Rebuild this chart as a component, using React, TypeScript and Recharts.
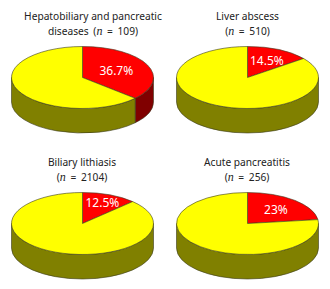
import React from 'react';
import { PieChart, Pie, Cell } from 'recharts';

const titles = [
    ['Hepatobiliary and pancreatic', 'diseases'],
    ['Liver abscess'],
    ['Biliary lithiasis'],
    ['Acute pancreatitis'],
];
const sampleSizes = [109, 510, 2104, 256];
const redShares = [36.7, 14.5, 12.5, 23];
const redLabels = ['36.7%', '14.5%', '12.5%', '23%'];

// layout of each panel in the page
const panelX = [0, 165, 0, 165];
const panelY = [0, 0, 146, 146];
const titleCenters = [93, 82.5, 82, 82];
const labelRadii = [37, 44, 52, 43];

const RX = 71;
const RY = 31;
const DEPTH = 24.5;
const TOP_COLORS = ['#ff0000', '#ffff00'];
const WALL_COLORS = ['#800000', '#808000'];
const EDGE = '#3a3a20';
const FONT = "'Noto Sans'";

const rad = (a: number) => (a * Math.PI) / 180;

const Slice3D = (props: any) => {
    const { cx, cy, startAngle, endAngle, index } = props;
    const px = (a: number) => cx + RX * Math.cos(rad(a));
    const py = (a: number) => cy - RY * Math.sin(rad(a));
    const large = Math.abs(startAngle - endAngle) > 180 ? 1 : 0;
    const top = `M${cx},${cy} L${px(startAngle)},${py(startAngle)} A${RX},${RY} 0 ${large} 1 ${px(endAngle)},${py(endAngle)} Z`;

    // side wall only shows on the front half of the ellipse
    const a0 = Math.min(startAngle, 0);
    const a1 = Math.max(endAngle, -180);
    const wall =
        a0 > a1
            ? `M${px(a0)},${py(a0)} A${RX},${RY} 0 0 1 ${px(a1)},${py(a1)} L${px(a1)},${py(a1) + DEPTH} A${RX},${RY} 0 0 0 ${px(a0)},${py(a0) + DEPTH} Z`
            : null;

    return (
        <g>
            {wall && <path d={wall} fill={WALL_COLORS[index]} stroke={EDGE} strokeWidth={0.6} />}
            <path d={top} fill={TOP_COLORS[index]} stroke={EDGE} strokeWidth={0.6} />
        </g>
    );
};

const Panel = ({ i }: { i: number }) => {
    const data = [
        { name: 'yes', value: redShares[i] },
        { name: 'no', value: 100 - redShares[i] },
    ];
    const renderLabel = (p: any) => {
        if (p.index !== 0) return null;
        const a = rad(p.midAngle);
        return (
            <text
                x={p.cx + labelRadii[i] * Math.cos(a)}
                y={p.cy - labelRadii[i] * (RY / RX) * Math.sin(a)}
                fill="#fff"
                fontSize={12}
                fontFamily={FONT}
                textAnchor="middle"
                dominantBaseline="central">
                {redLabels[i]}
            </text>
        );
    };
    const lines = titles[i];
    return (
        <div style={{ position: 'absolute', left: panelX[i], top: panelY[i], width: 165, height: 143 }}>
            <div
                style={{
                    position: 'absolute',
                    left: titleCenters[i] - 100,
                    width: 200,
                    top: 9,
                    textAlign: 'center',
                    fontFamily: FONT,
                    fontSize: 10.2,
                    lineHeight: '15.4px',
                    color: '#222',
                    whiteSpace: 'nowrap',
                }}>
                <div>{lines[0]}</div>
                <div style={{ wordSpacing: 2 }}>
                    {lines.length > 1 ? lines[1] + ' ' : ''}(<i style={{ fontFamily: "'Liberation Serif'", fontSize: 12 }}>n</i> = {sampleSizes[i]})
                </div>
            </div>
            <PieChart
                width={165}
                height={143}
                margin={{ top: 0, right: 0, bottom: 0, left: 0 }}
                style={{ position: 'absolute', left: 0, top: 0 }}>
                <Pie
                    data={data}
                    dataKey="value"
                    cx={82.5}
                    cy={77.5}
                    outerRadius={RX}
                    startAngle={90}
                    endAngle={-270}
                    paddingAngle={0}
                    shape={Slice3D}
                    label={renderLabel}
                    labelLine={false}
                    isAnimationActive={false}>
                    {data.map((d, k) => (
                        <Cell key={d.name} fill={TOP_COLORS[k]} />
                    ))}
                </Pie>
            </PieChart>
        </div>
    );
};

const App = () => {
    return (
        <div style={{ position: 'absolute', left: 0, top: 0, width: 330, height: 289, background: '#fff', overflow: 'hidden' }}>
            {titles.map((t, i) => (
                <Panel key={t[0]} i={i} />
            ))}
        </div>
    );
};

export default App;
